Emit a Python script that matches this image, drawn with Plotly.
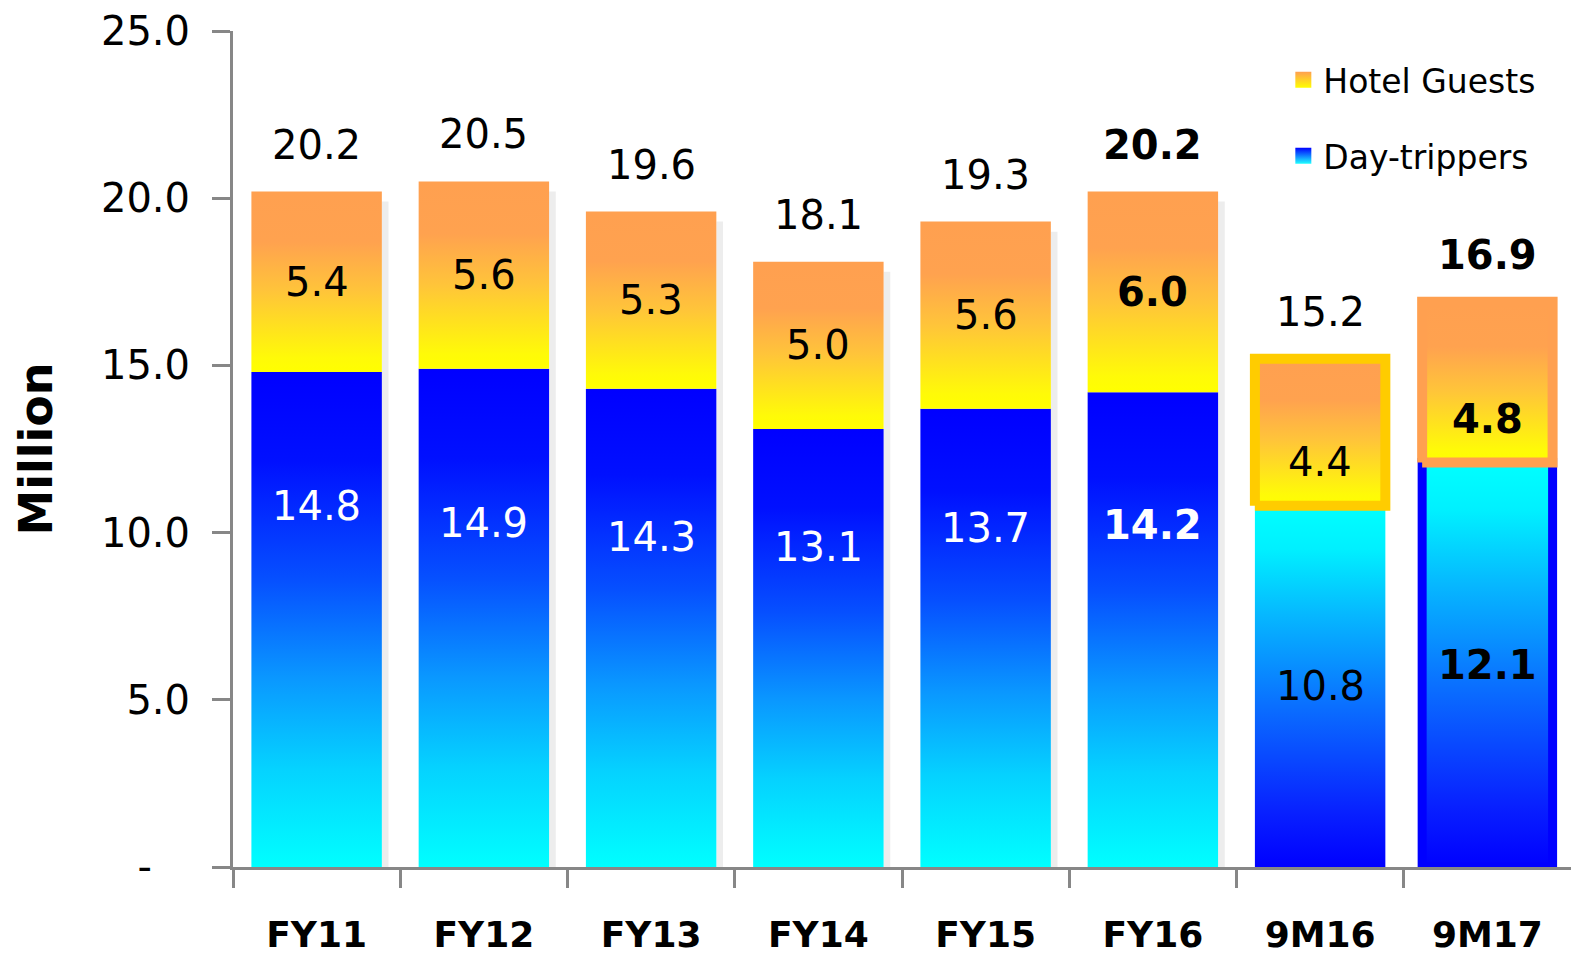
import plotly.graph_objects as go

# ---- data -------------------------------------------------------------
periods = ["FY11", "FY12", "FY13", "FY14", "FY15", "FY16", "9M16", "9M17"]
day_trippers = [14.8, 14.9, 14.3, 13.1, 13.7, 14.2, 10.8, 12.1]
hotel_guests = [5.4, 5.6, 5.3, 5.0, 5.6, 6.0, 4.4, 4.8]
totals = [20.2, 20.5, 19.6, 18.1, 19.3, 20.2, 15.2, 16.9]
y_tick_values = [0, 5, 10, 15, 20, 25]
y_tick_labels = ["-\u00a0\u00a0\u00a0", "5.0", "10.0", "15.0", "20.0", "25.0"]

# ---- styling ----------------------------------------------------------
FONT = "DejaVu Sans"
BAR_W = 0.78
SHADOW_W = 0.04
AXIS_GREY = "#878787"

HOTEL_SCALE = [[0.0, "#FFFF00"], [0.08, "#FFFA08"], [0.45, "#FFC43A"],
               [0.72, "#FFA24F"], [1.0, "#FFA050"]]
DAY_UP = [[0.0, "#00FFFF"], [0.2, "#05D2FF"], [0.38, "#0A98FF"],
          [0.58, "#0650FF"], [0.82, "#0010FF"], [1.0, "#0000FF"]]
DAY_DOWN = [[0.0, "#0000FF"], [0.15, "#0820FF"], [0.45, "#0A70FF"],
            [0.7, "#06B8FF"], [0.88, "#00F0FF"], [1.0, "#00FFFF"]]

is_ytd = [p.startswith("9M") for p in periods]
bold_col = [False, False, False, False, False, True, False, True]
day_borders = [None] * 7 + [("#0000FF", 9)]
hotel_borders = [None] * 6 + [("#FFCC00", 10), ("#FFA050", 10)]
day_label_pos = [0.73, 0.69, 0.69, 0.73, 0.74, 0.72, 0.5, 0.5]
hotel_label_pos = [0.5, 0.5, 0.5, 0.5, 0.5, 0.5, 0.3, 0.27]


def rect_trace(i, base, height, scale, border, name, group):
    left, right = i - BAR_W / 2, i + BAR_W / 2
    top = base + height
    line = dict(width=0, color="rgba(0,0,0,0)")
    if border is not None:
        line = dict(width=border[1], color=border[0])
    return go.Scatter(
        x=[left, right, right, left, left],
        y=[base, base, top, top, base],
        mode="lines",
        fill="toself",
        fillgradient=dict(type="vertical", colorscale=scale),
        line=line,
        name=name,
        legendgroup=group,
        showlegend=False,
        hoveron="fills",
        hoverinfo="name+text",
        text=f"{periods[i]}: {height:.1f}",
    )


def shadow_trace(i, top):
    # soft drop shadow along the right-hand side of a bar
    left = i + BAR_W / 2
    right = left + SHADOW_W
    top = top - 0.3
    return go.Scatter(
        x=[left, right, right, left, left],
        y=[0, 0, top, top, 0],
        mode="lines", fill="toself",
        fillcolor="rgba(0,0,0,0.07)",
        line=dict(width=0, color="rgba(0,0,0,0)"),
        showlegend=False, hoverinfo="skip",
    )


def legend_swatch(name, top_color, bottom_color, group, rank):
    return go.Scatter(
        x=[None], y=[None], mode="markers", name=name,
        legendgroup=group, legendrank=rank,
        marker=dict(symbol="square", size=22, color=top_color,
                    gradient=dict(type="vertical", color=bottom_color),
                    line=dict(width=0)),
    )


fig = go.Figure()

for i, t in enumerate(totals):
    if not is_ytd[i]:
        fig.add_trace(shadow_trace(i, t))

for i, v in enumerate(day_trippers):
    scale = DAY_DOWN if is_ytd[i] else DAY_UP
    fig.add_trace(rect_trace(i, 0, v, scale, day_borders[i],
                             "Day-trippers", "day"))

for i, v in enumerate(hotel_guests):
    fig.add_trace(rect_trace(i, day_trippers[i], v, HOTEL_SCALE,
                             hotel_borders[i], "Hotel Guests", "hotel"))

fig.add_trace(legend_swatch("Hotel Guests", "#FFA050", "#FFFF00", "hotel", 1))
fig.add_trace(legend_swatch("Day-trippers", "#0000FF", "#20FFFF", "day", 2))

annotations = []
for i in range(len(periods)):
    weight = "bold" if bold_col[i] else "normal"
    # total above each bar
    annotations.append(dict(
        x=i, y=totals[i], xref="x", yref="y", text=f"{totals[i]:.1f}",
        showarrow=False, yanchor="middle", yshift=47,
        font=dict(family=FONT, size=40, color="black", weight=weight)))
    # day-tripper segment label
    annotations.append(dict(
        x=i, y=day_trippers[i] * day_label_pos[i], xref="x", yref="y",
        text=f"{day_trippers[i]:.1f}", showarrow=False, yanchor="middle",
        font=dict(family=FONT, size=40,
                  color="black" if is_ytd[i] else "white", weight=weight)))
    # hotel-guest segment label
    annotations.append(dict(
        x=i, y=day_trippers[i] + hotel_guests[i] * hotel_label_pos[i],
        xref="x", yref="y", text=f"{hotel_guests[i]:.1f}", showarrow=False,
        yanchor="middle",
        font=dict(family=FONT, size=40, color="black", weight=weight)))

fig.update_layout(
    width=1577,
    height=955,
    margin=dict(l=233, r=6, t=31, b=88),
    paper_bgcolor="white",
    plot_bgcolor="white",
    font=dict(family=FONT, color="black"),
    showlegend=True,
    legend=dict(
        x=0.785, y=0.975, xanchor="left", yanchor="top",
        font=dict(family=FONT, size=33, color="black"),
        traceorder="grouped", tracegroupgap=30,
        itemsizing="trace",
        bgcolor="rgba(0,0,0,0)",
    ),
    annotations=annotations,
    xaxis=dict(
        range=[-0.5, 7.5],
        tickmode="array",
        tickvals=list(range(len(periods))),
        ticktext=periods,
        ticks="",
        tickfont=dict(family=FONT, size=36, color="black", weight="bold"),
        ticklabelstandoff=34,
        showline=True, linecolor=AXIS_GREY, linewidth=3,
        showgrid=False, zeroline=False, automargin=False,
        minor=dict(tickmode="array",
                   tickvals=[k - 0.5 for k in range(len(periods))],
                   ticks="outside", ticklen=18, tickwidth=3,
                   tickcolor=AXIS_GREY, showgrid=False),
        fixedrange=True,
    ),
    yaxis=dict(
        range=[0, 25],
        tickmode="array",
        tickvals=y_tick_values,
        ticktext=y_tick_labels,
        ticks="outside", ticklen=18, tickwidth=3, tickcolor=AXIS_GREY,
        tickfont=dict(family=FONT, size=40, color="black"),
        ticklabelstandoff=14,
        showline=True, linecolor=AXIS_GREY, linewidth=3,
        showgrid=False, zeroline=False, automargin=False,
        title=dict(text="Million", standoff=34,
                   font=dict(family=FONT, size=46, color="black",
                             weight="bold")),
        fixedrange=True,
    ),
)

fig.write_html("out.html")
